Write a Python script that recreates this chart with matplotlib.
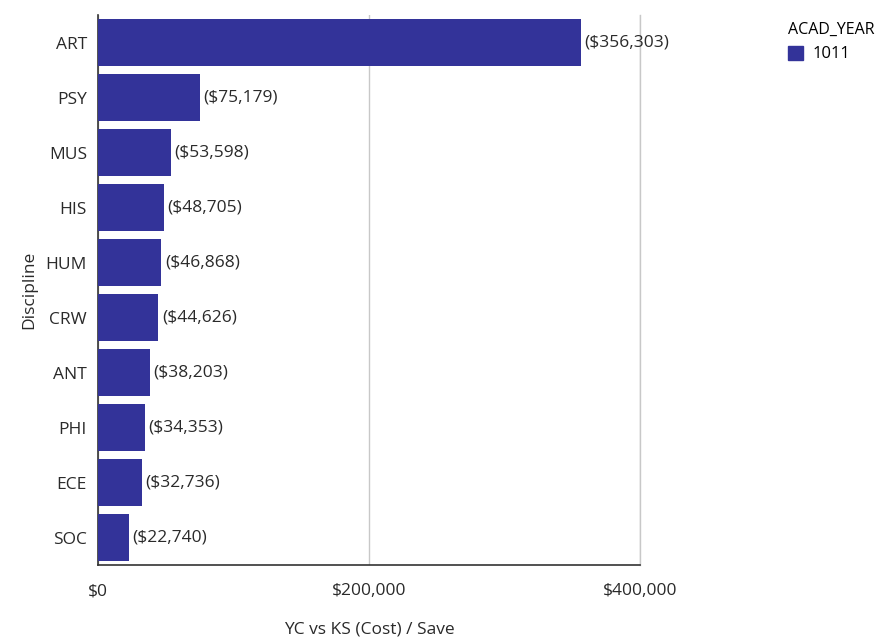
import matplotlib
matplotlib.use("Agg")
import matplotlib.pyplot as plt
from matplotlib.patches import Patch

plt.rcParams['font.family'] = ['Open Sans', 'DejaVu Sans']

# data (values are negative savings, shown in parentheses)
disciplines = ['ART', 'PSY', 'MUS', 'HIS', 'HUM', 'CRW', 'ANT', 'PHI', 'ECE', 'SOC']
costs = [356303, 75179, 53598, 48705, 46868, 44626, 38203, 34353, 32736, 22740]
xticks = [0, 200000, 400000]
xtick_labels = ['$0', '$200,000', '$400,000']
year = '1011'

bar_color = '#333399'
txt = '#2a2a2a'
fs = 12.5

fig = plt.figure(figsize=(8.86, 6.38), dpi=100)
ax = fig.add_axes([0.1106, 0.1144, 0.6117, 0.862])

ypos = list(range(len(disciplines)))
ax.barh(ypos, costs, height=0.84, color=bar_color, zorder=3)
for y, v in zip(ypos, costs):
    ax.text(v + 2500, y, '(${:,})'.format(v), va='center', ha='left',
            fontsize=fs, color=txt, zorder=4)

ax.set_yticks(ypos)
ax.set_yticklabels(disciplines)
ax.set_ylim(len(disciplines) - 0.5, -0.5)
ax.set_xlim(0, 400000)
ax.set_xticks(xticks)
ax.set_xticklabels(xtick_labels)
ax.tick_params(axis='both', length=0, labelsize=fs, colors=txt)
ax.tick_params(axis='x', pad=13)
ax.tick_params(axis='y', pad=8)
ax.grid(axis='x', color='#c8c8c8', linewidth=1, zorder=0)
ax.axvline(400000, color='#c8c8c8', linewidth=1, zorder=0, clip_on=False)

for s in ['top', 'right']:
    ax.spines[s].set_visible(False)
ax.spines['left'].set_color('#333333')
ax.spines['bottom'].set_color('#333333')
ax.spines['left'].set_linewidth(1.2)
ax.spines['bottom'].set_linewidth(1.2)

ax.set_xlabel('YC vs KS (Cost) / Save', fontsize=fs, color=txt, labelpad=16)
ax.set_ylabel('Discipline', fontsize=fs, color=txt, labelpad=6)

leg = fig.legend(handles=[Patch(color=bar_color, label=year)], title='ACAD_YEAR',
                 loc='upper left', bbox_to_anchor=(0.872, 0.99), frameon=False,
                 fontsize=12, title_fontsize=11.5, handlelength=0.9,
                 handleheight=0.9, handletextpad=0.6, alignment='left')

fig.savefig('out.png', dpi=100)
